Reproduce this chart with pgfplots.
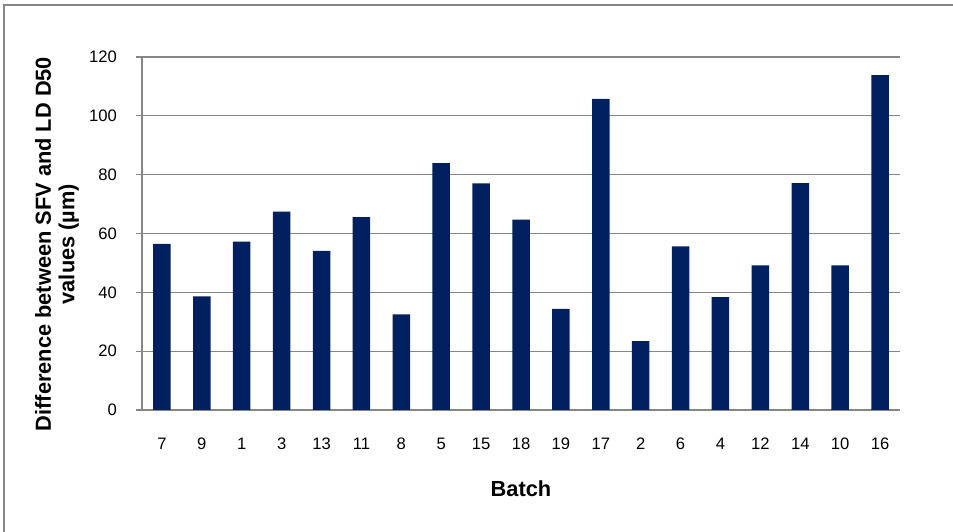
\documentclass[border=0pt]{standalone}
\usepackage{pgfplots}
\pgfplotsset{compat=1.18}
\usepackage{fontspec}
\setmainfont{Liberation Sans}

\definecolor{barnavy}{RGB}{0,32,96}
\definecolor{framegray}{RGB}{134,134,134}

\begin{document}
\begin{tikzpicture}
  % outer chart frame and canvas
  \useasboundingbox (0pt,0pt) rectangle (953pt,532pt);
  \draw[framegray, line width=1.3pt] (4pt,0pt) -- (4pt,527pt) -- (953pt,527pt);

  \begin{axis}[
    at={(142pt,122pt)}, anchor=south west,
    scale only axis, width=758pt, height=353pt,
    ybar, bar width=17.5pt,
    xmin=-0.5, xmax=18.5,
    ymin=0, ymax=120,
    ytick={0,20,...,120},
    xtick={0,...,18},
    xticklabels={7,9,1,3,13,11,8,5,15,18,19,17,2,6,4,12,14,10,16},
    major x tick style={draw=none},
    extra x ticks={-0.5,0.5,...,18.5},
    extra x tick labels={},
    extra x tick style={major tick length=6pt, tick align=outside,
      tick style={draw=framegray, line width=1.2pt}},
    axis x line*=bottom, axis y line*=left,
    axis line style={-, draw=framegray, line width=1.2pt},
    tick align=outside, major tick length=6pt,
    tick style={draw=framegray, line width=1.2pt},
    ymajorgrids,
    grid style={draw=framegray, line width=1.2pt},
    /pgf/number format/assume math mode=true,
    ticklabel style={font=\fontsize{16.6}{19}\selectfont},
    yticklabel style={anchor=east, inner sep=0pt, xshift=-19pt},
    xticklabel style={anchor=center, inner sep=0pt, yshift=-28pt},
    xlabel={Batch},
    ylabel={Difference between SFV and LD D50\\values (µm)},
    label style={font=\fontsize{21.8}{23.5}\selectfont\bfseries, align=center},
    xlabel style={at={(axis description cs:0.5,-0.224)}, anchor=center},
    ylabel style={at={(axis description cs:-0.112,0.47)}, anchor=center, rotate=0},
  ]
    \addplot[fill=barnavy, draw=none] coordinates {
      (0,56.5) (1,38.6) (2,57.2) (3,67.4) (4,54.1) (5,65.6) (6,32.5)
      (7,83.9) (8,77.0) (9,64.7) (10,34.4) (11,105.8) (12,23.4)
      (13,55.6) (14,38.4) (15,49.2) (16,77.1) (17,49.2) (18,113.8)
    };
  \end{axis}
\end{tikzpicture}
\end{document}
